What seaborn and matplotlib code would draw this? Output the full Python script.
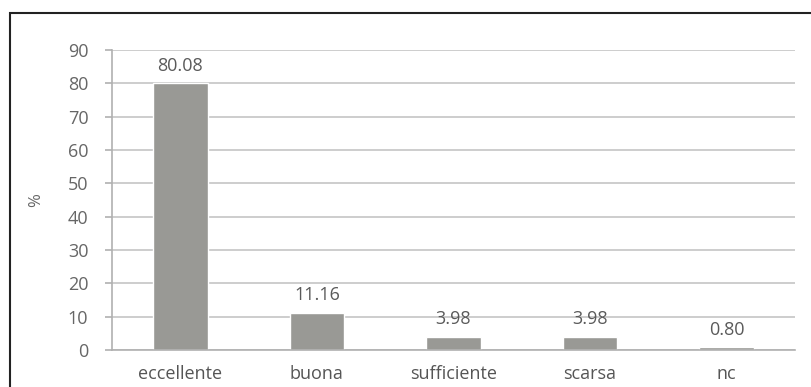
import matplotlib
matplotlib.use("Agg")
import matplotlib.pyplot as plt
import seaborn as sns
import pandas as pd
from matplotlib.patches import Rectangle

categories = ["eccellente", "buona", "sufficiente", "scarsa", "nc"]
values = [80.08, 11.16, 3.98, 3.98, 0.80]
labels = ["80.08", "11.16", "3.98", "3.98", "0.80"]
y_ticks = [0, 10, 20, 30, 40, 50, 60, 70, 80, 90]

sns.set_style("white")
plt.rcParams["font.family"] = ["Open Sans", "DejaVu Sans"]

df = pd.DataFrame({"cat": categories, "val": values})

fig = plt.figure(figsize=(8.12, 3.87), dpi=100)
# frame around the whole chart
fig.patches.append(Rectangle((10 / 812, -0.01), 1.0, 1 - 13 / 387 + 0.01,
                             transform=fig.transFigure, fill=False,
                             edgecolor="#222222", linewidth=1.5))

ax = fig.add_axes([112 / 812, 1 - 350 / 387, (795 - 112) / 812, 300 / 387])
sns.barplot(data=df, x="cat", y="val", color="#999995", width=0.4,
            saturation=1, ax=ax)

ax.set_ylim(0, 90)
ax.set_xlim(-0.5, 4.5)
ax.set_yticks(y_ticks)
ax.yaxis.grid(True, color="#c0c0c0", linewidth=1.1)
ax.set_axisbelow(True)

for s in ["top", "right"]:
    ax.spines[s].set_visible(False)
for s in ["left", "bottom"]:
    ax.spines[s].set_color("#b0b0b0")
    ax.spines[s].set_linewidth(1.2)

# tick marks between categories
ax.set_xticks([-0.5, 0.5, 1.5, 2.5, 3.5, 4.5], minor=True)
ax.tick_params(axis="x", which="minor", length=5, color="#b0b0b0", width=1.2)
ax.tick_params(axis="x", which="major", length=0, pad=11,
               labelsize=13, labelcolor="#555555")
ax.tick_params(axis="y", length=5, color="#b0b0b0", width=1.2, pad=12,
               labelsize=13, labelcolor="#666666", left=True)

for i, (v, lab) in enumerate(zip(values, labels)):
    ax.text(i, v + 2.5, lab, ha="center", va="bottom", fontsize=13, color="#5a5a5a")

ax.set_xlabel("")
ax.set_ylabel("%", fontsize=12, color="#666666", labelpad=17)

fig.savefig("out.png", dpi=100)
